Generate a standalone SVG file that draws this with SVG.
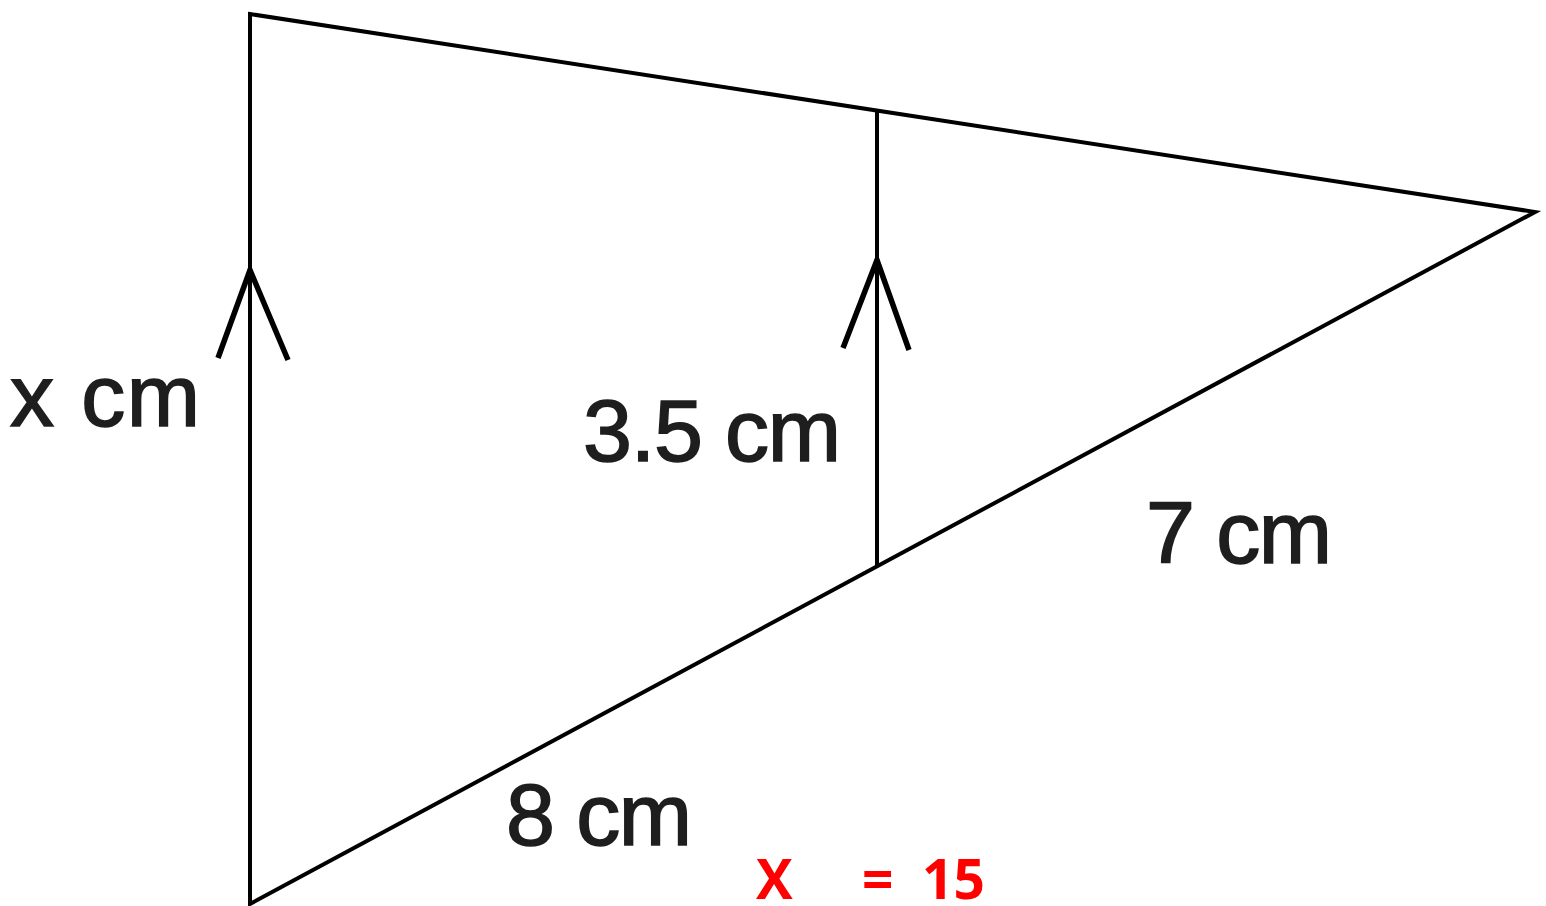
<svg xmlns="http://www.w3.org/2000/svg" width="1546" height="906" viewBox="0 0 1546 906">
<style>
.l{stroke:#000;stroke-width:4;fill:none;stroke-linejoin:miter}
.c{stroke:#000;stroke-width:5.5;fill:none;stroke-linejoin:miter}
.t{font-family:"Liberation Sans",Arial,sans-serif;font-size:88px;fill:#1e1e1e;stroke:#1e1e1e;stroke-width:1.6}
.r{font-family:"Open Sans","Liberation Sans",sans-serif;font-size:55px;font-weight:bold;fill:#ff0000}
</style>
<rect width="1546" height="906" fill="#fff"/>
<g id="figure">
<polygon class="l" points="250,14 1535,212 250,904"/>
<line class="l" x1="877" y1="110" x2="877" y2="566"/>
<polyline class="c" points="218,358 250,270 288,360"/>
<polyline class="c" points="843,348 877,260 909,350"/>
</g>
<g id="labels">
<text class="t" x="10" y="426" textLength="190">x cm</text>
<text class="t" x="583" y="461" textLength="258">3.5 cm</text>
<text class="t" x="1146" y="563" textLength="186">7 cm</text>
<text class="t" x="506" y="845" textLength="186">8 cm</text>
<text class="r" x="756" y="899">X</text>
<text class="r" x="862" y="899">=</text>
<text class="r" x="922" y="899">15</text>
</g>
</svg>
